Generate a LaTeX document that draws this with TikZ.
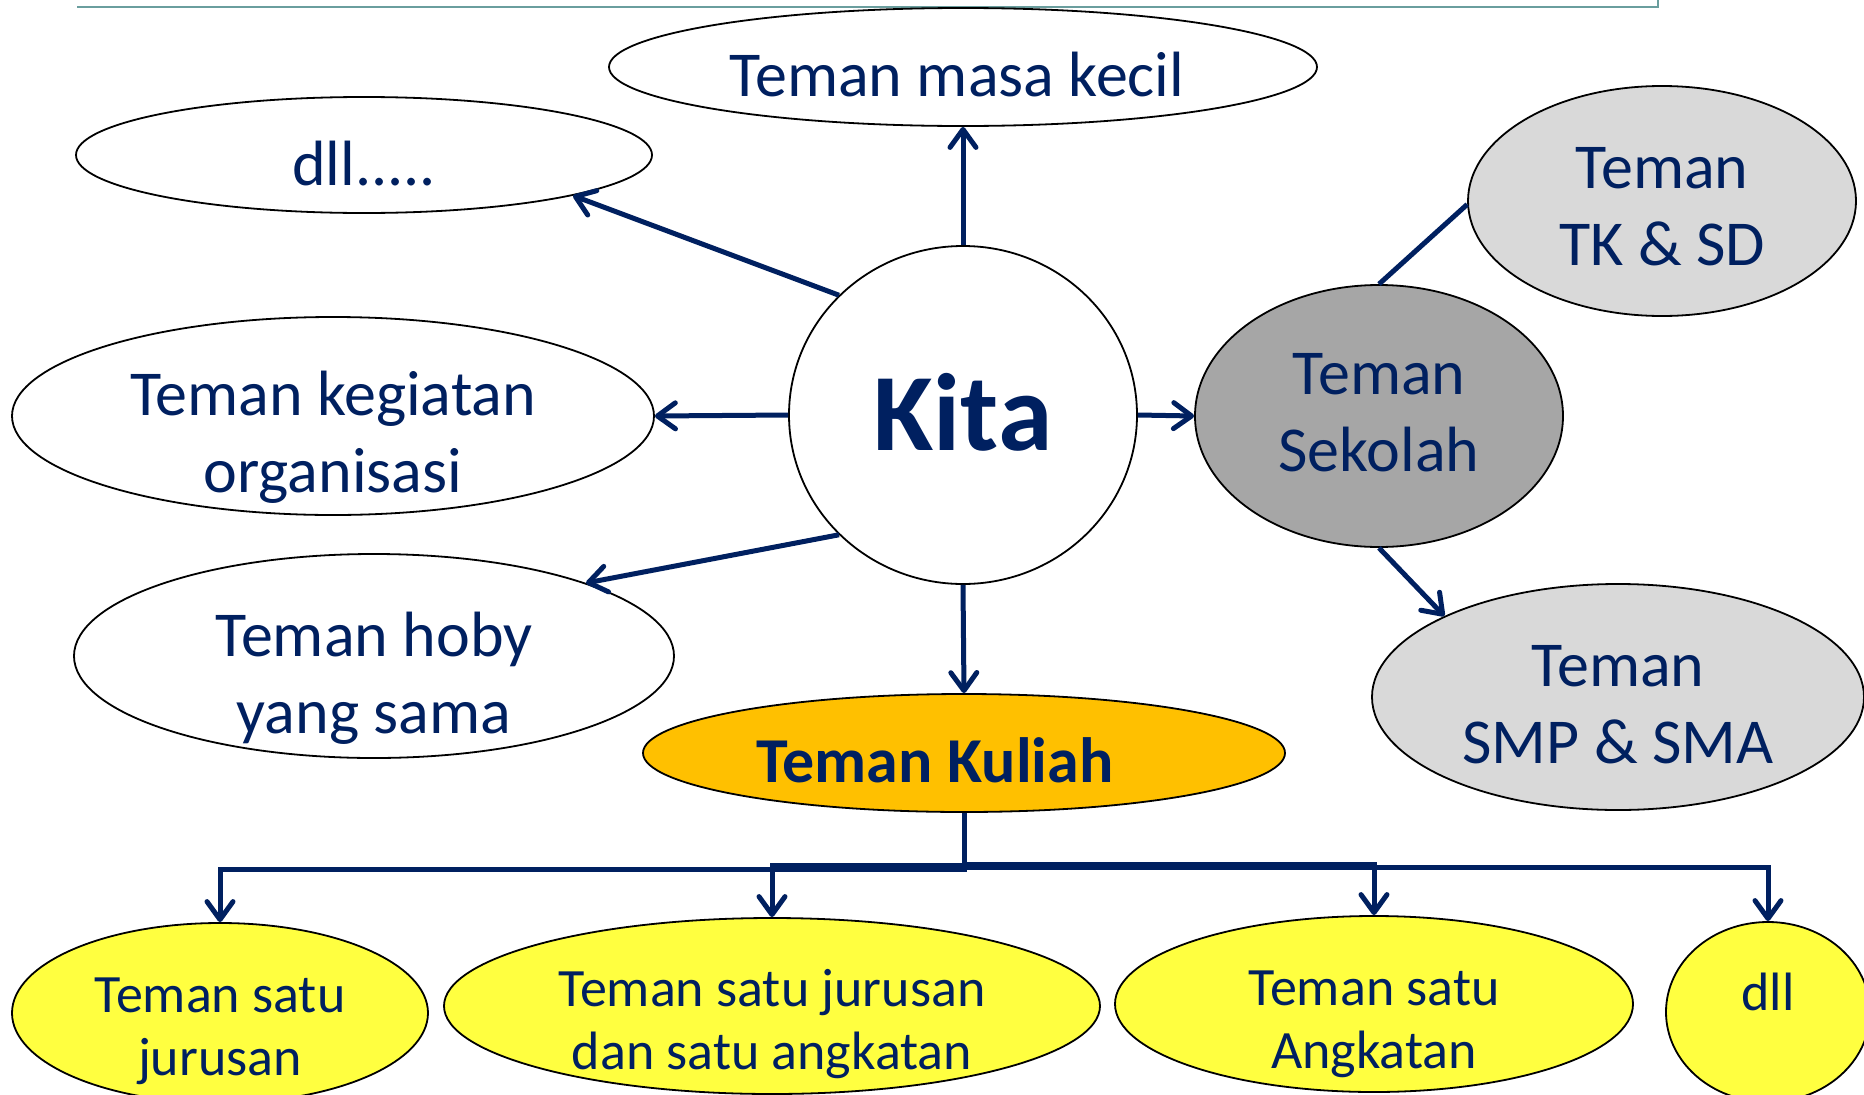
\documentclass[tikz,border=0pt]{standalone}
\usepackage{fontspec}
\setmainfont{Carlito}
\usetikzlibrary{shapes.geometric,arrows.meta}
\definecolor{navy}{HTML}{002060}
\definecolor{tealline}{HTML}{6A9E9E}
\definecolor{lgray}{HTML}{D9D9D9}
\definecolor{dgray}{HTML}{A6A6A6}
\definecolor{orangey}{HTML}{FFC000}
\definecolor{yell}{HTML}{FFFF40}
\tikzset{
  ell/.style={ellipse, draw=black, line width=1.8pt, fill=white, inner sep=0pt},
  txt/.style={text=navy, align=center, font=\fontsize{64}{77}\selectfont},
  btxt/.style={text=navy, align=center, font=\fontsize{54}{63}\selectfont},
  conn/.style={draw=navy, line width=5pt, -{Straight Barb[length=18pt,width=26pt,line width=5pt,round]}},
  plain/.style={draw=navy, line width=5pt},
}
\begin{document}
\begin{tikzpicture}[x=1pt,y=-1pt]
\useasboundingbox (0,0) rectangle (1864,1095);
\coordinate (tl) at (77,7);
\coordinate (tr) at (1658,7);
\coordinate (tt) at (1658,0);
\draw[tealline, line width=2pt] (tl) -- (tr) -- (tt);

\node[ell, minimum width=708, minimum height=118, label={[txt,yshift=-8pt,xshift=-6pt]center:Teman masa kecil}] (masa) at (963,67) {};
\node[ell, minimum width=576, minimum height=116, label={[txt,yshift=-9pt]center:dll.....}] (dlla) at (364,155) {};
\node[ell, minimum width=642, minimum height=198, label={[txt,yshift=-21pt]center:Teman kegiatan\\organisasi}] (keg) at (333,416) {};
\node[ell, minimum width=600, minimum height=204, label={[txt,yshift=-22pt]center:Teman hoby\\yang sama}] (hoby) at (374,656) {};
\node[ell, minimum width=348, minimum height=338, label={[text=navy, yshift=3pt, font=\fontsize{110}{120}\selectfont\bfseries]center:Kita}] (kita) at (963,415) {};
\node[ell, fill=dgray, minimum width=368, minimum height=262, label={[txt,yshift=3pt]center:Teman\\Sekolah}] (sek) at (1379,416) {};
\node[ell, fill=lgray, minimum width=388, minimum height=230, label={[txt,yshift=-6pt]center:Teman\\TK \& SD}] (tk) at (1662,201) {};
\node[ell, fill=lgray, minimum width=492, minimum height=226, label={[txt,yshift=-8pt]center:Teman\\SMP \& SMA}] (smp) at (1618,697) {};
\node[ell, fill=orangey, minimum width=642, minimum height=118, label={[text=navy, yshift=-7pt, xshift=-29pt, font=\fontsize{64}{70}\selectfont\bfseries]center:Teman Kuliah}] (kul) at (964,753) {};

\node[ell, fill=yell, minimum width=416, minimum height=180, label={[btxt,yshift=-18pt]center:Teman satu\\jurusan}] (b1) at (220,1013) {};
\node[ell, fill=yell, minimum width=656, minimum height=176, label={[btxt,yshift=-18pt]center:Teman satu jurusan\\dan satu angkatan}] (b2) at (772,1006) {};
\node[ell, fill=yell, minimum width=518, minimum height=176, label={[btxt,yshift=-20pt]center:Teman satu\\Angkatan}] (b3) at (1374,1004) {};
\node[ell, fill=yell, minimum width=204, minimum height=180, label={[btxt,yshift=20pt]center:dll}] (b4) at (1768,1012) {};

\draw[conn] (kita.north) -- (masa.south);
\draw[conn] (kita.136) -- (dlla.-11);
\draw[conn] (kita.west) -- (keg.east);
\draw[conn] (kita.224) -- (hoby.19);
\draw[conn] (kita.south) -- (kul.north);
\draw[conn] (kita.east) -- (sek.west);
\draw[plain] (sek.north) -- (tk.181);
\draw[conn] (sek.south) -- (smp.155);

\draw[conn] (kul.south) -- ++(0,57) -| (b1.north);
\draw[conn] (kul.south) -- ++(0,53) -| (b2.north);
\draw[conn] (kul.south) -- ++(0,52) -| (b3.north);
\draw[conn] (kul.south) -- ++(0,55) -| (b4.north);
\end{tikzpicture}
\end{document}
